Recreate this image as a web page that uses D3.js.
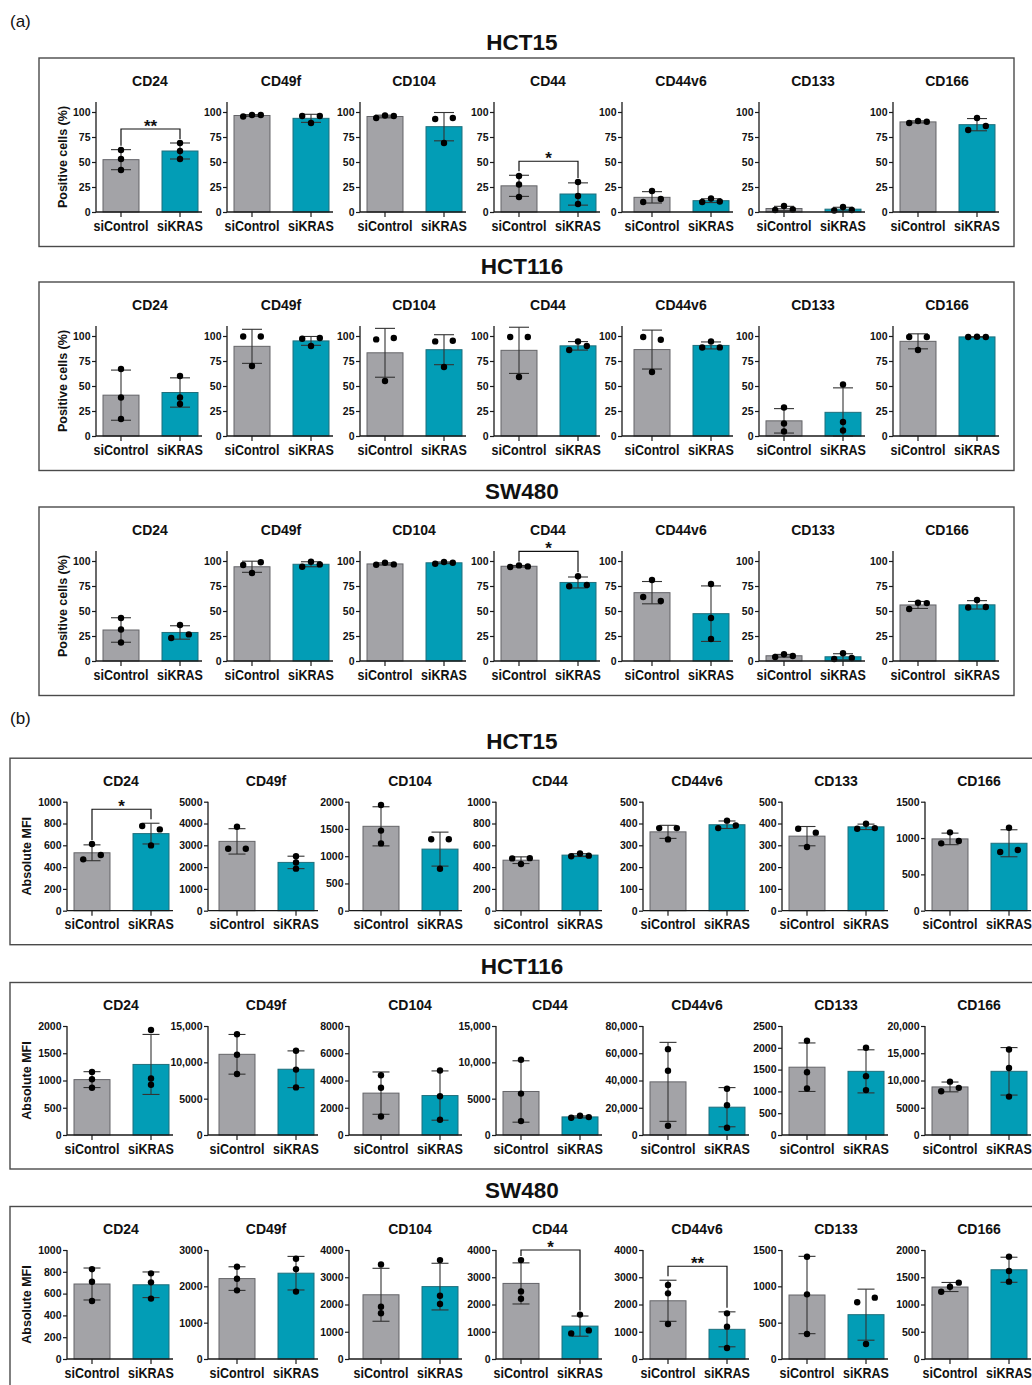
<!DOCTYPE html>
<html>
<head>
<meta charset="utf-8">
<script src="https://cdn.jsdelivr.net/npm/d3@7"></script>
<style>
  body { margin: 0; background: #fff; }
  svg { display: block; }
  text { font-family: "Liberation Sans", Arial, Helvetica, sans-serif; fill: #111; }
</style>
</head>
<body>
<svg id="fig" width="1032" height="1385"></svg>
<script>
// ---------- data ----------
const markers = ["CD24", "CD49f", "CD104", "CD44", "CD44v6", "CD133", "CD166"];
const groups = ["siControl", "siKRAS"];
const cellLines = ["HCT15", "HCT116", "SW480"];

// (a) Positive cells (%): per marker, [siControl replicates, siKRAS replicates]
const pctHCT15 = [
  [[62, 53, 42], [69, 61, 53]],
  [[95.5, 97, 97], [96, 96, 89]],
  [[94, 96.5, 96], [93, 94, 69]],
  [[36, 27.5, 15], [30, 16, 8]],
  [[10, 21, 13], [10, 13.5, 10.5]],
  [[2, 6, 2.5], [1.5, 5, 2]],
  [[89, 91, 90.3], [82, 94, 86]]
];
const pctHCT116 = [
  [[67, 38.5, 17], [60, 38.5, 32]],
  [[99.5, 99.5, 70], [97.3, 98, 90]],
  [[96.6, 98, 55], [94.6, 95.3, 69]],
  [[99, 99, 59], [86, 94.5, 90]],
  [[99, 96.3, 64], [88.5, 94.6, 88.6]],
  [[28.5, 12.5, 4.5], [51.5, 14, 5.5]],
  [[99, 99, 86], [99, 99.3, 99]]
];
const pctSW480 = [
  [[43, 31.5, 18.5], [23, 36, 26.6]],
  [[96, 98.7, 88], [94.3, 99.3, 96.6]],
  [[96.3, 98.3, 96.6], [97.3, 99, 98.3]],
  [[94, 95.6, 94.6], [74.7, 84.8, 76.1]],
  [[81, 64, 60], [77, 43, 22]],
  [[4, 6.7, 5], [2, 7.7, 3]],
  [[52, 58.2, 57.9], [53.5, 61, 54]]
];

// (b) Absolute MFI: per marker, [siControl replicates, siKRAS replicates]
const mfiHCT15 = [
  [[471, 612, 511], [777, 746, 599]],
  [[2844, 3853, 2844], [2500, 2215, 1930]],
  [[1940, 1470, 1235], [1310, 1310, 770]],
  [[480, 428, 482], [500, 525, 505]],
  [[379, 327, 379], [379, 413, 391]],
  [[376, 358, 292], [376, 399, 379]],
  [[927, 1078, 959], [807, 1142, 835]]
];
const mfiHCT116 = [
  [[1158, 1024, 867], [1927, 1036, 921]],
  [[13860, 11050, 8400], [11600, 9000, 6550]],
  [[4390, 3470, 1360], [4730, 2840, 1115]],
  [[10350, 5700, 1915], [2370, 2640, 2460]],
  [[63000, 47200, 6800], [34000, 21900, 5350]],
  [[2160, 1440, 1065], [2000, 1350, 1030]],
  [[8020, 9790, 8650], [15700, 12300, 7050]]
];
const mfiSW480 = [
  [[823, 709, 532], [786, 703, 554]],
  [[2540, 2210, 1890], [2760, 2470, 1855]],
  [[3470, 1920, 1680], [3630, 2320, 2020]],
  [[3630, 2480, 2210], [940, 1630, 1050]],
  [[2716, 2410, 1284], [1676, 1187, 404]],
  [[1408, 890, 344], [780, 844, 206]],
  [[1235, 1327, 1401], [1878, 1615, 1419]]
];

// axis ranges
const pctTop = 110;
const pctTicks = [0, 25, 50, 75, 100];
const mfiTopHCT15 = [1000, 5000, 2000, 1000, 500, 500, 1500];
const mfiStepHCT15 = [200, 1000, 500, 200, 100, 100, 500];
const mfiTopHCT116 = [2000, 15000, 8000, 15000, 80000, 2500, 20000];
const mfiStepHCT116 = [500, 5000, 2000, 5000, 20000, 500, 5000];
const mfiTopSW480 = [1000, 3000, 4000, 4000, 4000, 1500, 2000];
const mfiStepSW480 = [200, 1000, 1000, 1000, 1000, 500, 500];

// significance annotations: [cell line, marker, label]
const sigPct = [["HCT15", "CD24", "**"], ["HCT15", "CD44", "*"], ["SW480", "CD44", "*"]];
const sigMfi = [["HCT15", "CD24", "*"], ["SW480", "CD44", "*"], ["SW480", "CD44v6", "**"]];

// ---------- layout ----------
const COLORS = { siControl: "#a3a3a7", siKRAS: "#029db6" };
const STROKES = { siControl: "#646468", siKRAS: "#1f6f7c" };

const layoutA = {
  tag: "(a)", tagY: 27, blockT: [41, 265, 490],
  plotX: [96, 227, 360, 494, 627, 759, 893],
  axisX: [96, 227, 360, 494, 622, 759, 893],
  boxX: [39, 1014], yLabelX: 67, yLabel: "Positive cells (%)",
  titleOff: 8.5, boxTopOff: 17, boxBotOff: 205.5, subOff: 45,
  yTopOff: 61, y0Off: 171, capW: 20
};
const layoutB = {
  tag: "(b)", tagY: 724, blockT: [741.7, 966, 1190],
  plotX: [67, 212, 356, 496, 643, 782, 925],
  axisX: [67, 208, 349, 496, 643, 782, 925],
  boxX: [10, 1040], yLabelX: 31, yLabel: "Absolute MFI",
  titleOff: 7.5, boxTopOff: 16.5, boxBotOff: 203, subOff: 44.3,
  yTopOff: 60, y0Off: 169, capW: 17
};

const svg = d3.select("#fig");
const fmtMfi = v => (v >= 10000 ? d3.format(",")(v) : String(v));
const DOT_R = 3.2, DOT_DX = 8.8, DOT_HIT = 6;

// horizontal spread of replicate dots that would overlap vertically
function spread(vals, y) {
  const order = vals.map((v, i) => i).sort((a, b) => vals[a] - vals[b]);
  const clusters = [];
  let cur = [order[0]];
  for (let k = 1; k < order.length; k++) {
    const gap = Math.abs(y(vals[order[k]]) - y(vals[order[k - 1]]));
    if (gap < DOT_HIT) cur.push(order[k]); else { clusters.push(cur); cur = [order[k]]; }
  }
  clusters.push(cur);
  const off = vals.map(() => 0);
  clusters.forEach(c => {
    c.sort((a, b) => a - b);
    const pat = c.length === 1 ? [0] : c.length === 2 ? [-DOT_DX, DOT_DX] : [-DOT_DX, 0, DOT_DX];
    c.forEach((i, j) => { off[i] = pat[j]; });
  });
  return off;
}

function drawSubplot(g, L, T, mi, reps, domainTop, ticks, fmt, sig) {
  const px = L.plotX[mi], ax = L.axisX[mi];
  const y0 = T + L.y0Off, yT = T + L.yTopOff;
  const y = d3.scaleLinear().domain([0, domainTop]).range([y0, yT]);
  const x = d3.scaleBand().domain(groups).range([px + 7, px + 102]).paddingInner(0.39).paddingOuter(0);

  // subplot title
  g.append("text").attr("x", px + 54).attr("y", T + L.subOff)
    .attr("text-anchor", "middle").attr("font-size", 14).attr("font-weight", "bold")
    .text(markers[mi]);

  const stats = groups.map((grp, gi) => {
    const v = reps[gi];
    return { grp, vals: v, mean: d3.mean(v), sd: d3.deviation(v) };
  });

  // bars
  g.selectAll(null).data(stats).join("rect")
    .attr("x", d => x(d.grp)).attr("width", x.bandwidth())
    .attr("y", d => y(d.mean)).attr("height", d => y0 - y(d.mean))
    .attr("fill", d => COLORS[d.grp]).attr("stroke", d => STROKES[d.grp]).attr("stroke-width", 1);

  // error bars (mean ± SD)
  stats.forEach(d => {
    const cx = x(d.grp) + x.bandwidth() / 2;
    const hi = y(d.mean + d.sd), lo = y(Math.max(0, d.mean - d.sd));
    const eg = g.append("g").attr("stroke", "#333").attr("stroke-width", 1.1);
    eg.append("line").attr("x1", cx).attr("x2", cx).attr("y1", hi).attr("y2", lo);
    eg.append("line").attr("x1", cx - L.capW / 2).attr("x2", cx + L.capW / 2).attr("y1", hi).attr("y2", hi);
    eg.append("line").attr("x1", cx - L.capW / 2).attr("x2", cx + L.capW / 2).attr("y1", lo).attr("y2", lo);
  });

  // replicate dots
  stats.forEach(d => {
    const cx = x(d.grp) + x.bandwidth() / 2;
    const off = spread(d.vals, y);
    g.selectAll(null).data(d.vals).join("circle")
      .attr("cx", (v, i) => cx + off[i]).attr("cy", v => y(v)).attr("r", DOT_R).attr("fill", "#000");
  });

  // y axis
  const yAxis = d3.axisLeft(y).tickValues(ticks).tickSize(4).tickSizeOuter(0).tickPadding(1.5).tickFormat(fmt);
  const ya = g.append("g").attr("transform", `translate(${ax},0)`).call(yAxis);
  ya.select(".domain").attr("stroke", "#1a1a1a").attr("stroke-width", 1.3).attr("d", `M0,${y0}V${yT}`);
  ya.selectAll(".tick line").attr("stroke", "#1a1a1a").attr("stroke-width", 1.2);
  ya.selectAll(".tick text").attr("font-size", 10.5).attr("font-weight", "bold")
    .attr("font-family", '"Liberation Sans", Arial, sans-serif').attr("fill", "#111");

  // x axis
  const xAxis = d3.axisBottom(x).tickSize(5).tickSizeOuter(0).tickPadding(3);
  const xa = g.append("g").attr("transform", `translate(0,${y0})`).call(xAxis);
  xa.select(".domain").attr("stroke", "#1a1a1a").attr("stroke-width", 1.3).attr("d", `M${ax},0H${px + 106}`);
  xa.selectAll(".tick line").attr("stroke", "#1a1a1a").attr("stroke-width", 1.2);
  xa.selectAll(".tick text").attr("font-size", 15).attr("font-weight", "bold")
    .attr("font-family", '"Liberation Sans", Arial, sans-serif').attr("fill", "#111")
    .attr("transform", "scale(0.835,1)");

  // significance bracket: sits above both groups, never above the axis top
  if (sig) {
    const tops = stats.map(d => y(Math.max(d.mean + d.sd, d3.max(d.vals))));
    const by = Math.max(Math.min(...tops) - 14, yT);
    const cxs = stats.map(d => x(d.grp) + x.bandwidth() / 2);
    const legEnd = tops.map(t => by + Math.max(4, t - by - 4));
    g.append("path")
      .attr("d", `M${cxs[0]},${legEnd[0]}V${by}H${cxs[1]}V${legEnd[1]}`)
      .attr("fill", "none").attr("stroke", "#111").attr("stroke-width", 1.2);
    g.append("text").attr("x", (cxs[0] + cxs[1]) / 2).attr("y", by + 3)
      .attr("text-anchor", "middle").attr("font-size", 17).attr("font-weight", "bold")
      .text(sig);
  }
}

function drawPanel(L, dataSets, tops, steps, sigs) {
  const pg = svg.append("g");
  pg.append("text").attr("x", 10).attr("y", L.tagY).attr("font-size", 17).text(L.tag);

  cellLines.forEach((cl, ci) => {
    const T = L.blockT[ci];
    const g = pg.append("g");
    g.append("rect")
      .attr("x", L.boxX[0]).attr("y", T + L.boxTopOff)
      .attr("width", L.boxX[1] - L.boxX[0]).attr("height", L.boxBotOff - L.boxTopOff)
      .attr("fill", "none").attr("stroke", "#4a4a4a").attr("stroke-width", 1.4);
    g.append("text").attr("x", 522).attr("y", T + L.titleOff)
      .attr("text-anchor", "middle").attr("font-size", 22.5).attr("font-weight", "bold").text(cl);

    const yMid = T + (L.yTopOff + L.y0Off) / 2;
    g.append("text").attr("transform", `translate(${L.yLabelX},${yMid}) rotate(-90)`)
      .attr("text-anchor", "middle").attr("font-size", 12.5).attr("font-weight", "bold").text(L.yLabel);

    markers.forEach((m, mi) => {
      const top = tops ? tops[ci][mi] : pctTop;
      const ticks = tops ? d3.range(0, top + steps[ci][mi] / 2, steps[ci][mi]) : pctTicks;
      const fmt = tops ? fmtMfi : (v => String(v));
      const s = sigs.find(r => r[0] === cl && r[1] === m);
      drawSubplot(g, L, T, mi, dataSets[ci][mi], top, ticks, fmt, s ? s[2] : null);
    });
  });
}

drawPanel(layoutA, [pctHCT15, pctHCT116, pctSW480], null, null, sigPct);
drawPanel(layoutB, [mfiHCT15, mfiHCT116, mfiSW480],
  [mfiTopHCT15, mfiTopHCT116, mfiTopSW480],
  [mfiStepHCT15, mfiStepHCT116, mfiStepSW480], sigMfi);
</script>
</body>
</html>
